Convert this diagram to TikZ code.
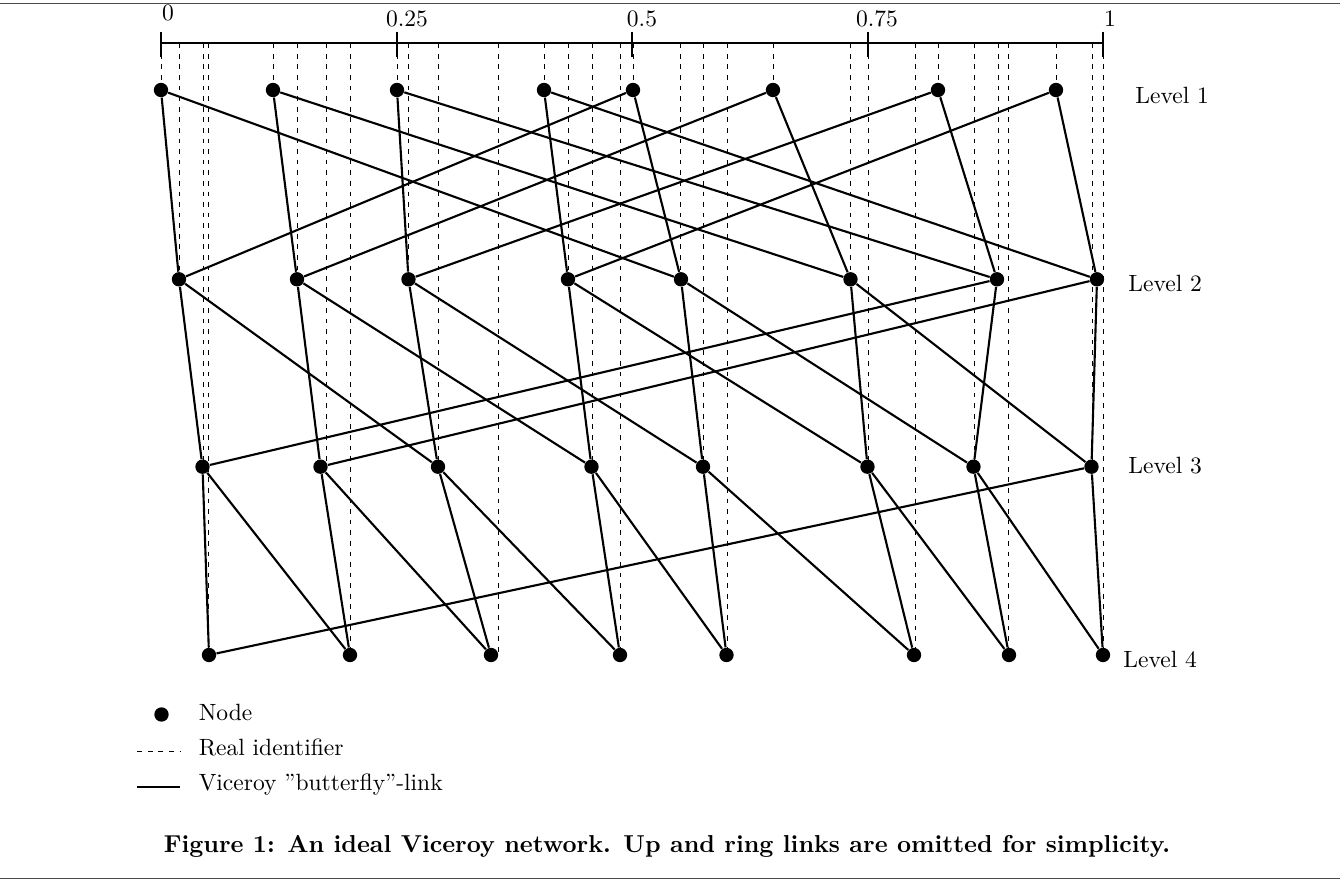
\documentclass[tikz,border=0pt]{standalone}
\usepackage{tikz}

\tikzset{
    vnode/.style={circle,fill=black,inner sep=0pt,minimum size=6.1pt},
    ident/.style={dash pattern=on 2pt off 2.5pt,line width=0.4pt},
    vlink/.style={line width=0.9pt},
    rule/.style={black!70,line width=0.7pt}
}

\begin{document}
\begin{tikzpicture}[x=0.425pt,y=-0.425pt]
    \useasboundingbox (0,0) rectangle (1340,886);

    % Rules
    \draw[rule] (0,3.5) -- (1340,3.5);
    \draw[rule] (0,878.5) -- (1340,878.5);

    % Axis
    \draw[vlink] (161,43.3) -- (1103,43.3);
    \foreach \x in {161,397,632,868,1103}
        \draw[vlink] (\x,31.7) -- (\x,56.7);
    \node[anchor=base,inner sep=0pt] at (168,20.7) {0};
    \node[anchor=base,inner sep=0pt] at (407,26.7) {0.25};
    \node[anchor=base,inner sep=0pt] at (642,26.7) {0.5};
    \node[anchor=base,inner sep=0pt] at (877,26.7) {0.75};
    \node[anchor=base,inner sep=0pt] at (1110,26.7) {1};

    % Real identifiers
    \foreach \x in {161,273,397,544,633,773,938,1056}
        \draw[ident] (\x,43.3) -- (\x,90);
    \foreach \x in {179,297.5,408.5,568,680,850.5,998,1103}
        \draw[ident] (\x,43.3) -- (\x,279.3);
    \foreach \x in {203.5,326.5,438,592,703,868,974,1092}
        \draw[ident] (\x,43.3) -- (\x,466.7);
    \foreach \x in {208.5,350.5,498,620.5,727.5,915.5,1008.5,1103}
        \draw[ident] (\x,43.3) -- (\x,655);

    % Nodes
    \foreach \n/\x in {a1/161,a2/273,a3/397,a4/544,a5/633,a6/773,a7/938,a8/1056}
        \node[vnode] (\n) at (\x,90) {};
    \foreach \n/\x in {b1/179,b2/297,b3/408.5,b4/568,b5/681,b6/850.5,b7/997,b8/1097}
        \node[vnode] (\n) at (\x,279.3) {};
    \foreach \n/\x in {c1/202.5,c2/320.5,c3/438,c4/591.5,c5/703,c6/867.5,c7/973.5,c8/1091.5}
        \node[vnode] (\n) at (\x,466.7) {};
    \foreach \n/\x in {d1/209,d2/350,d3/491,d4/620,d5/726.5,d6/914,d7/1009,d8/1103}
        \node[vnode] (\n) at (\x,655) {};

    % Butterfly links
    \foreach \s/\t in {a1/b1,a2/b2,a3/b3,a4/b4,a5/b5,a6/b6,a7/b7,a8/b8,
                       a1/b5,a2/b6,a3/b7,a4/b8,a5/b1,a6/b2,a7/b3,a8/b4}
        \draw[vlink] (\s) -- (\t);
    \foreach \s/\t in {b1/c1,b2/c2,b3/c3,b4/c4,b5/c5,b6/c6,b7/c7,b8/c8,
                       b1/c3,b2/c4,b3/c5,b4/c6,b5/c7,b6/c8,b7/c1,b8/c2}
        \draw[vlink] (\s) -- (\t);
    \foreach \s/\t in {c1/d1,c2/d2,c3/d3,c4/d4,c5/d5,c6/d6,c7/d7,c8/d8,
                       c1/d2,c2/d3,c3/d4,c4/d5,c5/d6,c6/d7,c7/d8,c8/d1}
        \draw[vlink] (\s) -- (\t);

    % Level labels
    \node[anchor=base west,inner sep=0pt] (lev1) at (1135,103.3) {Level 1};
    \node[anchor=base west,inner sep=0pt] (lev2) at (1128,291.7) {Level 2};
    \node[anchor=base west,inner sep=0pt] (lev3) at (1128,473.3) {Level 3};
    \node[anchor=base west,inner sep=0pt] (lev4) at (1123,667) {Level 4};

    % Legend
    \node[vnode] (keynode) at (161.5,714.5) {};
    \coordinate (keyidL) at (137.3,751.7);
    \coordinate (keyidR) at (180,751.7);
    \draw[ident] (keyidL) -- (keyidR);
    \coordinate (keylinkL) at (137.3,786.7);
    \coordinate (keylinkR) at (180,786.7);
    \draw[vlink] (keylinkL) -- (keylinkR);
    \node[anchor=base west,inner sep=0pt] at (198.3,720) {Node};
    \node[anchor=base west,inner sep=0pt] at (198.3,755.7) {Real identifier};
    \node[anchor=base west,inner sep=0pt] at (198.3,790.3) {Viceroy ”butterfly”-link};

    % Caption
    \node[anchor=base,inner sep=0pt] at (667,852.3)
        {\fontsize{10.4pt}{12pt}\selectfont\bfseries Figure 1: An ideal Viceroy network. Up and ring links are omitted for simplicity.};
\end{tikzpicture}
\end{document}
